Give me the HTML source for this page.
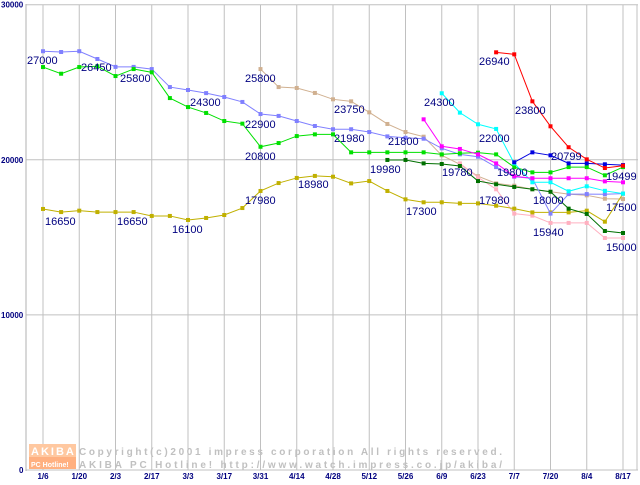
<!DOCTYPE html>
<html><head><meta charset="utf-8"><style>
body{margin:0;background:#fff;}
svg text{font-family:"Liberation Sans",sans-serif;}
</style></head><body>
<svg id="c" width="640" height="480" xmlns="http://www.w3.org/2000/svg"></svg>
<script>
const xLabels=["1/6","1/20","2/3","2/17","3/3","3/17","3/31","4/14","4/28","5/12","5/26","6/9","6/23","7/7","7/20","8/4","8/17"];
const yTicks=[0,10000,20000,30000];
const sLavender=[27000,26950,27000,26500,25990,25990,25850,24690,24500,24300,24050,23730,22950,22830,22500,22180,21970,21970,21790,21510,21420,21360,20740,20350,20200,19530,18910,18800,16530,17790,17790,17780,17820];
const sGreen=[25980,25550,25980,26030,25400,25850,25640,23980,23400,23020,22500,22330,20840,21080,21530,21640,21640,20480,20480,20480,20480,20480,20350,20420,20460,20350,19530,19190,19190,19530,19530,19000,19530];
const sOlive=[16830,16630,16720,16630,16630,16630,16380,16380,16120,16250,16440,16890,17990,18500,18830,18960,18910,18480,18630,17990,17450,17260,17260,17190,17190,17040,16850,16610,16610,16610,16720,16010,17820];
const sTan=[null,null,null,null,null,null,null,null,null,null,null,null,25850,24690,24630,24310,23900,23770,23060,22310,21790,21490,20290,19710,18940,18480,18330,18100,17940,17790,17710,17490,17470];
const sDarkGreen=[null,null,null,null,null,null,null,null,null,null,null,null,null,null,null,null,null,null,null,19990,19990,19770,19730,19600,18630,18420,18250,18100,17940,16850,16510,15410,15280];
const sPink=[null,null,null,null,null,null,null,null,null,null,null,null,null,null,null,null,null,null,null,null,null,null,null,19770,18870,18100,16530,16400,15930,15930,15930,14960,14960];
const sMagenta=[null,null,null,null,null,null,null,null,null,null,null,null,null,null,null,null,null,null,null,null,null,22610,20870,20700,20350,19770,18940,18810,18810,18810,18810,18610,18550];
const sCyan=[null,null,null,null,null,null,null,null,null,null,null,null,null,null,null,null,null,null,null,null,null,null,24290,23040,22290,21990,19770,18550,18550,17970,18290,18000,17820];
const sRed=[null,null,null,null,null,null,null,null,null,null,null,null,null,null,null,null,null,null,null,null,null,null,null,null,null,26930,26800,23770,22160,20810,20030,19470,19620];
const sBlue=[null,null,null,null,null,null,null,null,null,null,null,null,null,null,null,null,null,null,null,null,null,null,null,null,null,null,19840,20480,20290,19770,19770,19710,19660];
const priceLabels=["27000","26450","25800","24300","22900","20800","25800","16650","16650","16100","17980","18980","23750","21980","21800","19980","17300","24300","19780","22000","17980","26940","23800","19800","20799","18000","15940","19499","17500","15000"];
const labelPos=[[27,64],[81,71],[120,82],[190,106],[245,128],[245,160],[245,82],[45,225],[117,225],[172,233],[245,204],[298,188],[334,113],[334,142],[388,145],[370,173],[406,215],[424,106],[442,176],[479,142],[479,204],[479,65],[515,114],[497,176],[551,160],[533,204],[533,236],[606,180],[606,211],[606,251]];
const svg=document.getElementById('c');
const NS="http://www.w3.org/2000/svg";
function X(i){return 43+18.125*i;}
function Y(v){return 470-v*0.01551;}
function mk(t,a,p){const e=document.createElementNS(NS,t);for(const k in a)e.setAttribute(k,a[k]);(p||svg).appendChild(e);return e;}
for(let k=0;k<xLabels.length;k++){
 const l=mk('line',{x1:X(2*k),x2:X(2*k),y1:5,y2:470,stroke:'#c0c0c0'});
 
 
 const t=mk('text',{x:X(2*k),y:479,'font-size':8,'font-weight':'bold',fill:'#000080','text-anchor':'middle'});
 t.textContent=xLabels[k];
 
 
}
mk('line',{x1:637,x2:637,y1:5,y2:470,stroke:'#c0c0c0'});
for(const v of yTicks){
 const l=mk('line',{x1:26,x2:638,y1:Y(v),y2:Y(v),stroke:'#c0c0c0'});
 
 
 const t=mk('text',{x:v==0?19:1,y:Y(v)+3,'font-size':8,'font-weight':'bold',fill:'#000080'});
 t.textContent=String(v);
 
 
}
mk('line',{x1:26,x2:26,y1:4,y2:471,stroke:'#b0b0b0'});
const wm=mk('g',{});


mk('rect',{x:29,y:444,width:47,height:13,fill:'#ffc8a0'},wm);
mk('rect',{x:29,y:457,width:47,height:12,fill:'#ffb080'},wm);
const w1=mk('text',{x:31,y:455,'font-size':11,fill:'#fff','font-weight':'bold','letter-spacing':'2'},wm);w1.textContent='AKIBA';
const w2=mk('text',{x:31,y:467,'font-size':7,fill:'#fff','font-weight':'bold'},wm);w2.textContent='PC Hotline!';
const w3=mk('text',{x:79,y:455,'font-size':10,fill:'#c0c0c0','font-family':'Liberation Mono,monospace','font-weight':'bold',textLength:423,lengthAdjust:'spacing'},wm);w3.textContent='Copyright(c)2001 impress corporation All rights reserved.';
const w4=mk('text',{x:79,y:468,'font-size':10,fill:'#c0c0c0','font-family':'Liberation Mono,monospace','font-weight':'bold',textLength:423,lengthAdjust:'spacing'},wm);w4.textContent='AKIBA PC Hotline!  http://www.watch.impress.co.jp/akiba/';
const series=[[sTan,'#d0b090','series-tan'],[sPink,'#ffb0c0','series-pink'],[sOlive,'#c0b000','series-olive'],[sDarkGreen,'#007000','series-dark-green'],[sLavender,'#8080ff','series-lavender'],[sGreen,'#00e000','series-green'],[sCyan,'#00ffff','series-cyan'],[sMagenta,'#ff00ff','series-magenta'],[sBlue,'#0000e0','series-blue'],[sRed,'#ff0000','series-red']];
for(const [d,c,n] of series){
 const g=mk('g',{});
 
 
 let pts=[];
 d.forEach((v,i)=>{if(v!=null)pts.push(X(i)+','+Y(v));});
 mk('polyline',{points:pts.join(' '),fill:'none',stroke:c,'stroke-width':1},g);
 d.forEach((v,i)=>{if(v!=null){const r=mk('rect',{x:X(i)-2,y:Y(v)-2,width:4,height:4,fill:c},g);
 
 }});
}
priceLabels.forEach((s,i)=>{
 const t=mk('text',{x:labelPos[i][0],y:labelPos[i][1],'font-size':11,fill:'#000080'});
 t.textContent=s;
 
 
});
</script>
</body></html>
